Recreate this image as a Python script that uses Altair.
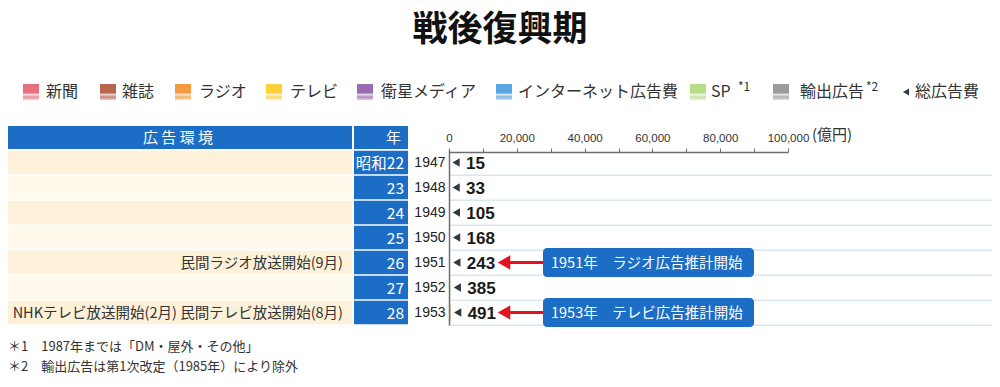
import altair as alt
import pandas as pd

# ---------------- data ----------------
years = [1947, 1948, 1949, 1950, 1951, 1952, 1953]
era_labels = ["昭和22", "23", "24", "25", "26", "27", "28"]
events = ["", "", "", "", "民間ラジオ放送開始(9月)", "",
          "NHKテレビ放送開始(2月) 民間テレビ放送開始(8月)"]
totals = [15, 33, 105, 168, 243, 385, 491]

media = ["新聞", "雑誌", "ラジオ", "テレビ", "衛星メディア", "インターネット広告費", "SP", "輸出広告"]
media_colors = ["#e8707c", "#b8664f", "#f59a3e", "#fdd039", "#9a6db0", "#5ba6e1", "#b9dc86", "#9c9c9c"]

newspaper = [10, 23, 73, 118, 165, 245, 300]
magazine = [1, 2, 6, 10, 14, 24, 30]
radio = [0, 0, 0, 0, 18, 45, 70]
tv = [0, 0, 0, 0, 0, 0, 3]
satellite = [0, 0, 0, 0, 0, 0, 0]
internet = [0, 0, 0, 0, 0, 0, 0]
sp = [4, 8, 26, 40, 46, 71, 88]
export_ad = [0, 0, 0, 0, 0, 0, 0]

ann_years = [1951, 1953]
ann_texts = ["1951年　ラジオ広告推計開始", "1953年　テレビ広告推計開始"]

tick_values = [0, 10000, 20000, 30000, 40000, 50000, 60000, 70000, 80000, 90000, 100000]

title_text = "戦後復興期"
header_env = "広 告 環 境"
header_year = "年"
unit_text = "(億円)"
total_label = "総広告費"
footnotes = ["＊1　1987年までは「DM・屋外・その他」", "＊2　輸出広告は第1次改定（1985年）により除外"]

# ---------------- layout / style ----------------
W, H = 984, 366
BLUE = "#1b6dc6"
FONT = "Noto Sans CJK JP"
NUM_FONT = "Liberation Sans"

series = [newspaper, magazine, radio, tv, satellite, internet, sp, export_ad]
bars_df = pd.DataFrame([
    {"year": y, "medium": m, "value": s[i], "order": k}
    for k, (m, s) in enumerate(zip(media, series))
    for i, y in enumerate(years)
])
rows_df = pd.DataFrame({"year": years, "era": era_labels, "event": events,
                        "total": totals, "idx": list(range(len(years)))})
ann_df = pd.DataFrame({"year": ann_years, "text": ann_texts})
one = pd.DataFrame({"a": [0]})

ys = alt.Scale(domain=years, range=[142, 317], paddingInner=0.06, paddingOuter=0.03)
yaxis = alt.Axis(orient="left", offset=-441, ticks=False, domain=True,
                 domainColor="#6e6e6e", domainWidth=1.5, labelFont=NUM_FONT,
                 labelFontSize=14, labelColor="#222", labelPadding=4, title=None,
                 grid=False, labelAngle=0)
Y = alt.Y("year:O", scale=ys, axis=yaxis)

xs = alt.Scale(domain=[0, 100000], range=[441, 780], nice=False)
xaxis = alt.Axis(orient="top", offset=-144, values=tick_values,
                 labelExpr="datum.value % 20000 === 0 ? format(datum.value, ',') : ''",
                 tickSize=4, tickColor="#6e6e6e", domainColor="#6e6e6e", domainWidth=1.5,
                 labelFont=NUM_FONT, labelFontSize=11.5, labelColor="#333", labelPadding=5,
                 grid=False, title=None, labelOverlap=False, labelFlush=False)


def X(field):
    return alt.X(field, type="quantitative", scale=xs, axis=xaxis)


layers = []

# title
layers.append(alt.Chart(one).mark_text(text=title_text, font=FONT, fontSize=35, fontWeight="bold",
                                       color="#111", align="center", baseline="middle")
              .encode(x=alt.value(492), y=alt.value(22)))

# legend
def lighten(hexc, f):
    hexc = hexc.lstrip("#")
    r, g, b = int(hexc[0:2], 16), int(hexc[2:4], 16), int(hexc[4:6], 16)
    r, g, b = [int(c + (255 - c) * f) for c in (r, g, b)]
    return "#%02x%02x%02x" % (r, g, b)

sw_x = [15, 92, 167, 258, 349, 488, 682, 765]
tx_x = [38, 114, 191, 282, 373, 510, 703, 792]
for k, m in enumerate(media):
    c = media_colors[k]
    grad = alt.Gradient(gradient="linear", x1=0, x2=0, y1=0, y2=1, stops=[
        alt.GradientStop(color=c, offset=0),
        alt.GradientStop(color=c, offset=0.55),
        alt.GradientStop(color=lighten(c, 0.75), offset=0.66),
        alt.GradientStop(color=lighten(c, 0.2), offset=0.82),
        alt.GradientStop(color=lighten(c, 0.7), offset=1),
    ])
    layers.append(alt.Chart(one).mark_rect(color=grad)
                  .encode(x=alt.value(sw_x[k]), x2=alt.value(sw_x[k] + 16),
                          y=alt.value(76), y2=alt.value(92)))
    layers.append(alt.Chart(one).mark_text(text=m, font=FONT, fontSize=16, color="#333",
                                           align="left", baseline="middle")
                  .encode(x=alt.value(tx_x[k]), y=alt.value(84)))
layers.append(alt.Chart(one).mark_text(text="*1", font=FONT, fontSize=12, color="#333",
                                       align="left", baseline="middle")
              .encode(x=alt.value(730), y=alt.value(79)))
layers.append(alt.Chart(one).mark_text(text="*2", font=FONT, fontSize=12, color="#333",
                                       align="left", baseline="middle")
              .encode(x=alt.value(858), y=alt.value(79)))
layers.append(alt.Chart(one).mark_point(shape="triangle-left", filled=True, size=50,
                                        color="#2d3a46", opacity=1)
              .encode(x=alt.value(898), y=alt.value(84)))
layers.append(alt.Chart(one).mark_text(text=total_label, font=FONT, fontSize=16, color="#333",
                                       align="left", baseline="middle")
              .encode(x=alt.value(907), y=alt.value(84)))

# header row
layers.append(alt.Chart(one).mark_rect(color=BLUE)
              .encode(x=alt.value(0), x2=alt.value(344), y=alt.value(118), y2=alt.value(141)))
layers.append(alt.Chart(one).mark_rect(color=BLUE)
              .encode(x=alt.value(346), x2=alt.value(400), y=alt.value(118), y2=alt.value(141)))
layers.append(alt.Chart(one).mark_text(text=header_env, font=FONT, fontSize=15, color="white",
                                       align="center", baseline="middle")
              .encode(x=alt.value(170), y=alt.value(130)))
layers.append(alt.Chart(one).mark_text(text=header_year, font=FONT, fontSize=15, color="white",
                                       align="right", baseline="middle")
              .encode(x=alt.value(393), y=alt.value(130)))
layers.append(alt.Chart(one).mark_text(text=unit_text, font=FONT, fontSize=15, color="#333",
                                       align="left", baseline="middle")
              .encode(x=alt.value(804), y=alt.value(127)))

# table rows
layers.append(alt.Chart(rows_df).mark_rect()
              .encode(x=alt.value(0), x2=alt.value(344), y=Y,
                      color=alt.condition("datum.idx % 2 === 0", alt.value("#fdf2d9"),
                                          alt.value("#fffaec"))))
layers.append(alt.Chart(rows_df).mark_rect(color=BLUE)
              .encode(x=alt.value(346), x2=alt.value(400), y=Y))
layers.append(alt.Chart(rows_df).mark_text(font=FONT, fontSize=15.5, color="white",
                                           align="right", baseline="middle", dy=1)
              .encode(x=alt.value(396), y=Y, text="era:N"))
layers.append(alt.Chart(rows_df).mark_text(font=FONT, fontSize=14.5, color="#333",
                                           align="right", baseline="middle", dy=1)
              .encode(x=alt.value(335), y=Y, text="event:N"))

# row separators in chart area
layers.append(alt.Chart(rows_df).mark_rule(color="#d9e7f2", strokeWidth=1.5, yOffset=1)
              .encode(x=alt.value(441), x2=alt.value(W),
                      y=alt.Y("year:O", scale=ys, axis=yaxis, bandPosition=1)))

# stacked bars
layers.append(alt.Chart(bars_df).mark_bar(size=18)
              .encode(x=alt.X("value", type="quantitative", scale=xs, axis=xaxis, stack="zero"),
                      y=Y,
                      color=alt.Color("medium:N", scale=alt.Scale(domain=media, range=media_colors),
                                      legend=None),
                      order=alt.Order("order:Q")))

# total markers
layers.append(alt.Chart(rows_df).mark_point(shape="triangle-left", filled=True, size=70,
                                            color="#2d3a46", opacity=1, xOffset=7)
              .encode(x=X("total"), y=Y))
layers.append(alt.Chart(rows_df).mark_text(font=NUM_FONT, fontSize=17, fontWeight="bold",
                                           color="#1a1a1a", align="left", baseline="middle",
                                           dx=17, dy=1)
              .encode(x=X("total"), y=Y, text="total:Q"))

# annotations
layers.append(alt.Chart(ann_df).mark_rule(color="#e3121b", strokeWidth=3)
              .encode(x=alt.value(498), x2=alt.value(536), y=Y))
layers.append(alt.Chart(ann_df).mark_point(shape="triangle-left", filled=True, size=210,
                                           color="#e3121b", opacity=1)
              .encode(x=alt.value(496), y=Y))
layers.append(alt.Chart(ann_df).mark_bar(color=BLUE, size=29, cornerRadius=4)
              .encode(x=alt.value(535), x2=alt.value(746), y=Y))
layers.append(alt.Chart(ann_df).mark_text(font=FONT, fontSize=14.5, color="white",
                                          align="left", baseline="middle", dy=1)
              .encode(x=alt.value(543), y=Y, text="text:N"))

# footnotes
for i, t in enumerate(footnotes):
    layers.append(alt.Chart(one).mark_text(text=t, font=FONT, fontSize=13, color="#333",
                                           align="left", baseline="middle")
                  .encode(x=alt.value(0), y=alt.value(339 + 20 * i)))

chart = (alt.layer(*layers)
         .properties(width=W, height=H, padding=0, autosize=alt.AutoSizeParams(type="none"))
         .configure(font=FONT, background="white",
                    view=alt.ViewConfig(stroke="transparent", strokeWidth=0)))

chart.save("out.html", embed_options={"renderer": "svg", "actions": False})
